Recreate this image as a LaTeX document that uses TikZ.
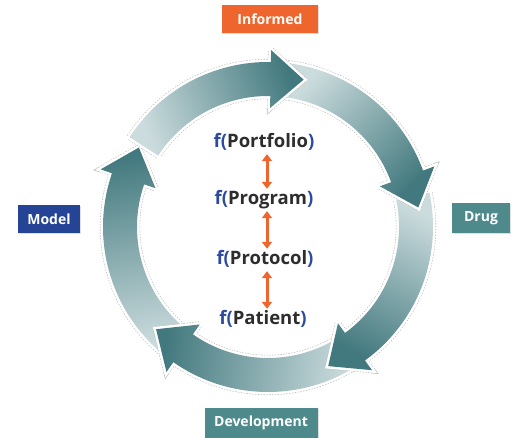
\documentclass[tikz,border=0pt]{standalone}
\usepackage{fontspec}
\setmainfont{Open Sans}
\usetikzlibrary{arrows.meta,shadows}

\definecolor{tealdark}{RGB}{66,121,126}
\definecolor{teallight}{RGB}{204,220,222}
\definecolor{informorange}{RGB}{238,102,46}
\definecolor{modelblue}{RGB}{38,68,150}
\definecolor{drugteal}{RGB}{78,138,140}
\definecolor{fnblue}{RGB}{44,74,160}
\definecolor{wordgray}{RGB}{45,45,45}

% One curved ring arrow: #1 = tail angle, #2 = angle of the head base.
% Mid radius 148, body half width 17, barbs at +-29, head length 33.
\newcommand{\cyclearrow}[2]{%
  \pgfmathsetmacro{\tipang}{#2-12.6}%
  \pgfmathsetmacro{\shang}{(#1+\tipang)/2-180}%
  \def\arrowoutline{(#1:165) arc[start angle=#1, end angle=#2, radius=165]
    -- (#2:177) -- (\tipang:151.6) -- (#2:119) -- (#2:131)
    arc[start angle=#2, end angle=#1, radius=131] -- cycle}%
  \draw[halo] \arrowoutline;
  \draw[draw=white, line width=5pt, line join=miter] \arrowoutline;
  \shade[top color=tealdark, bottom color=teallight, shading angle=\shang] \arrowoutline;
}

\newcommand{\fn}[1]{\textcolor{fnblue}{f(}#1\textcolor{fnblue}{)}}

\begin{document}
\begin{tikzpicture}[x=1pt, y=1pt,
  halo/.style={draw=black!28, line width=6.2pt, dash pattern=on 1.4pt off 1.4pt, line join=miter},
  tag/.style={text=white, font=\bfseries\fontsize{14}{14}\selectfont,
    minimum height=28pt, inner sep=0pt,
    drop shadow={opacity=0.25, shadow xshift=1.2pt, shadow yshift=-1.5pt}},
  fnlabel/.style={font=\bfseries\fontsize{18.5}{19}\selectfont, text=wordgray,
    inner sep=0pt, text height=14pt, text depth=4pt},
  link/.style={{Triangle[width=10pt,length=7pt]}-{Triangle[width=10pt,length=7pt]},
    line width=3pt, draw=informorange, shorten >=2pt, shorten <=2pt}]

\useasboundingbox[fill=white] (0,0) rectangle (516,438);

% the cycle of five arrows
\begin{scope}[shift={(268,211)}]
  \cyclearrow{231}{161}
  \cyclearrow{302}{235}
  \cyclearrow{12}{-54}
  \cyclearrow{84}{20}
  \cyclearrow{147}{89}
\end{scope}

% stage tags
\node[tag, fill=informorange, minimum width=96pt] (informed) at (270,419) {Informed};
\node[tag, fill=modelblue, minimum width=62pt] (model) at (49,219) {Model};
\node[tag, fill=drugteal, minimum width=58pt, minimum height=30pt] (drug) at (481,220) {Drug};
\node[tag, fill=drugteal, minimum width=113pt, minimum height=30pt] (development) at (261,15) {Development};

% levels in the middle
\node[fnlabel] (p1) at (264,295) {\fn{Portfolio}};
\node[fnlabel] (p2) at (264,238) {\fn{Program}};
\node[fnlabel] (p3) at (265,178) {\fn{Protocol}};
\node[fnlabel] (p4) at (263,118) {\fn{Patient}};

\draw[link] (p1.south -| 267,0) -- (p2.north -| 267,0);
\draw[link] (p2.south -| 267,0) -- (p3.north -| 267,0);
\draw[link] (p3.south -| 267,0) -- (p4.north -| 267,0);
\end{tikzpicture}
\end{document}
